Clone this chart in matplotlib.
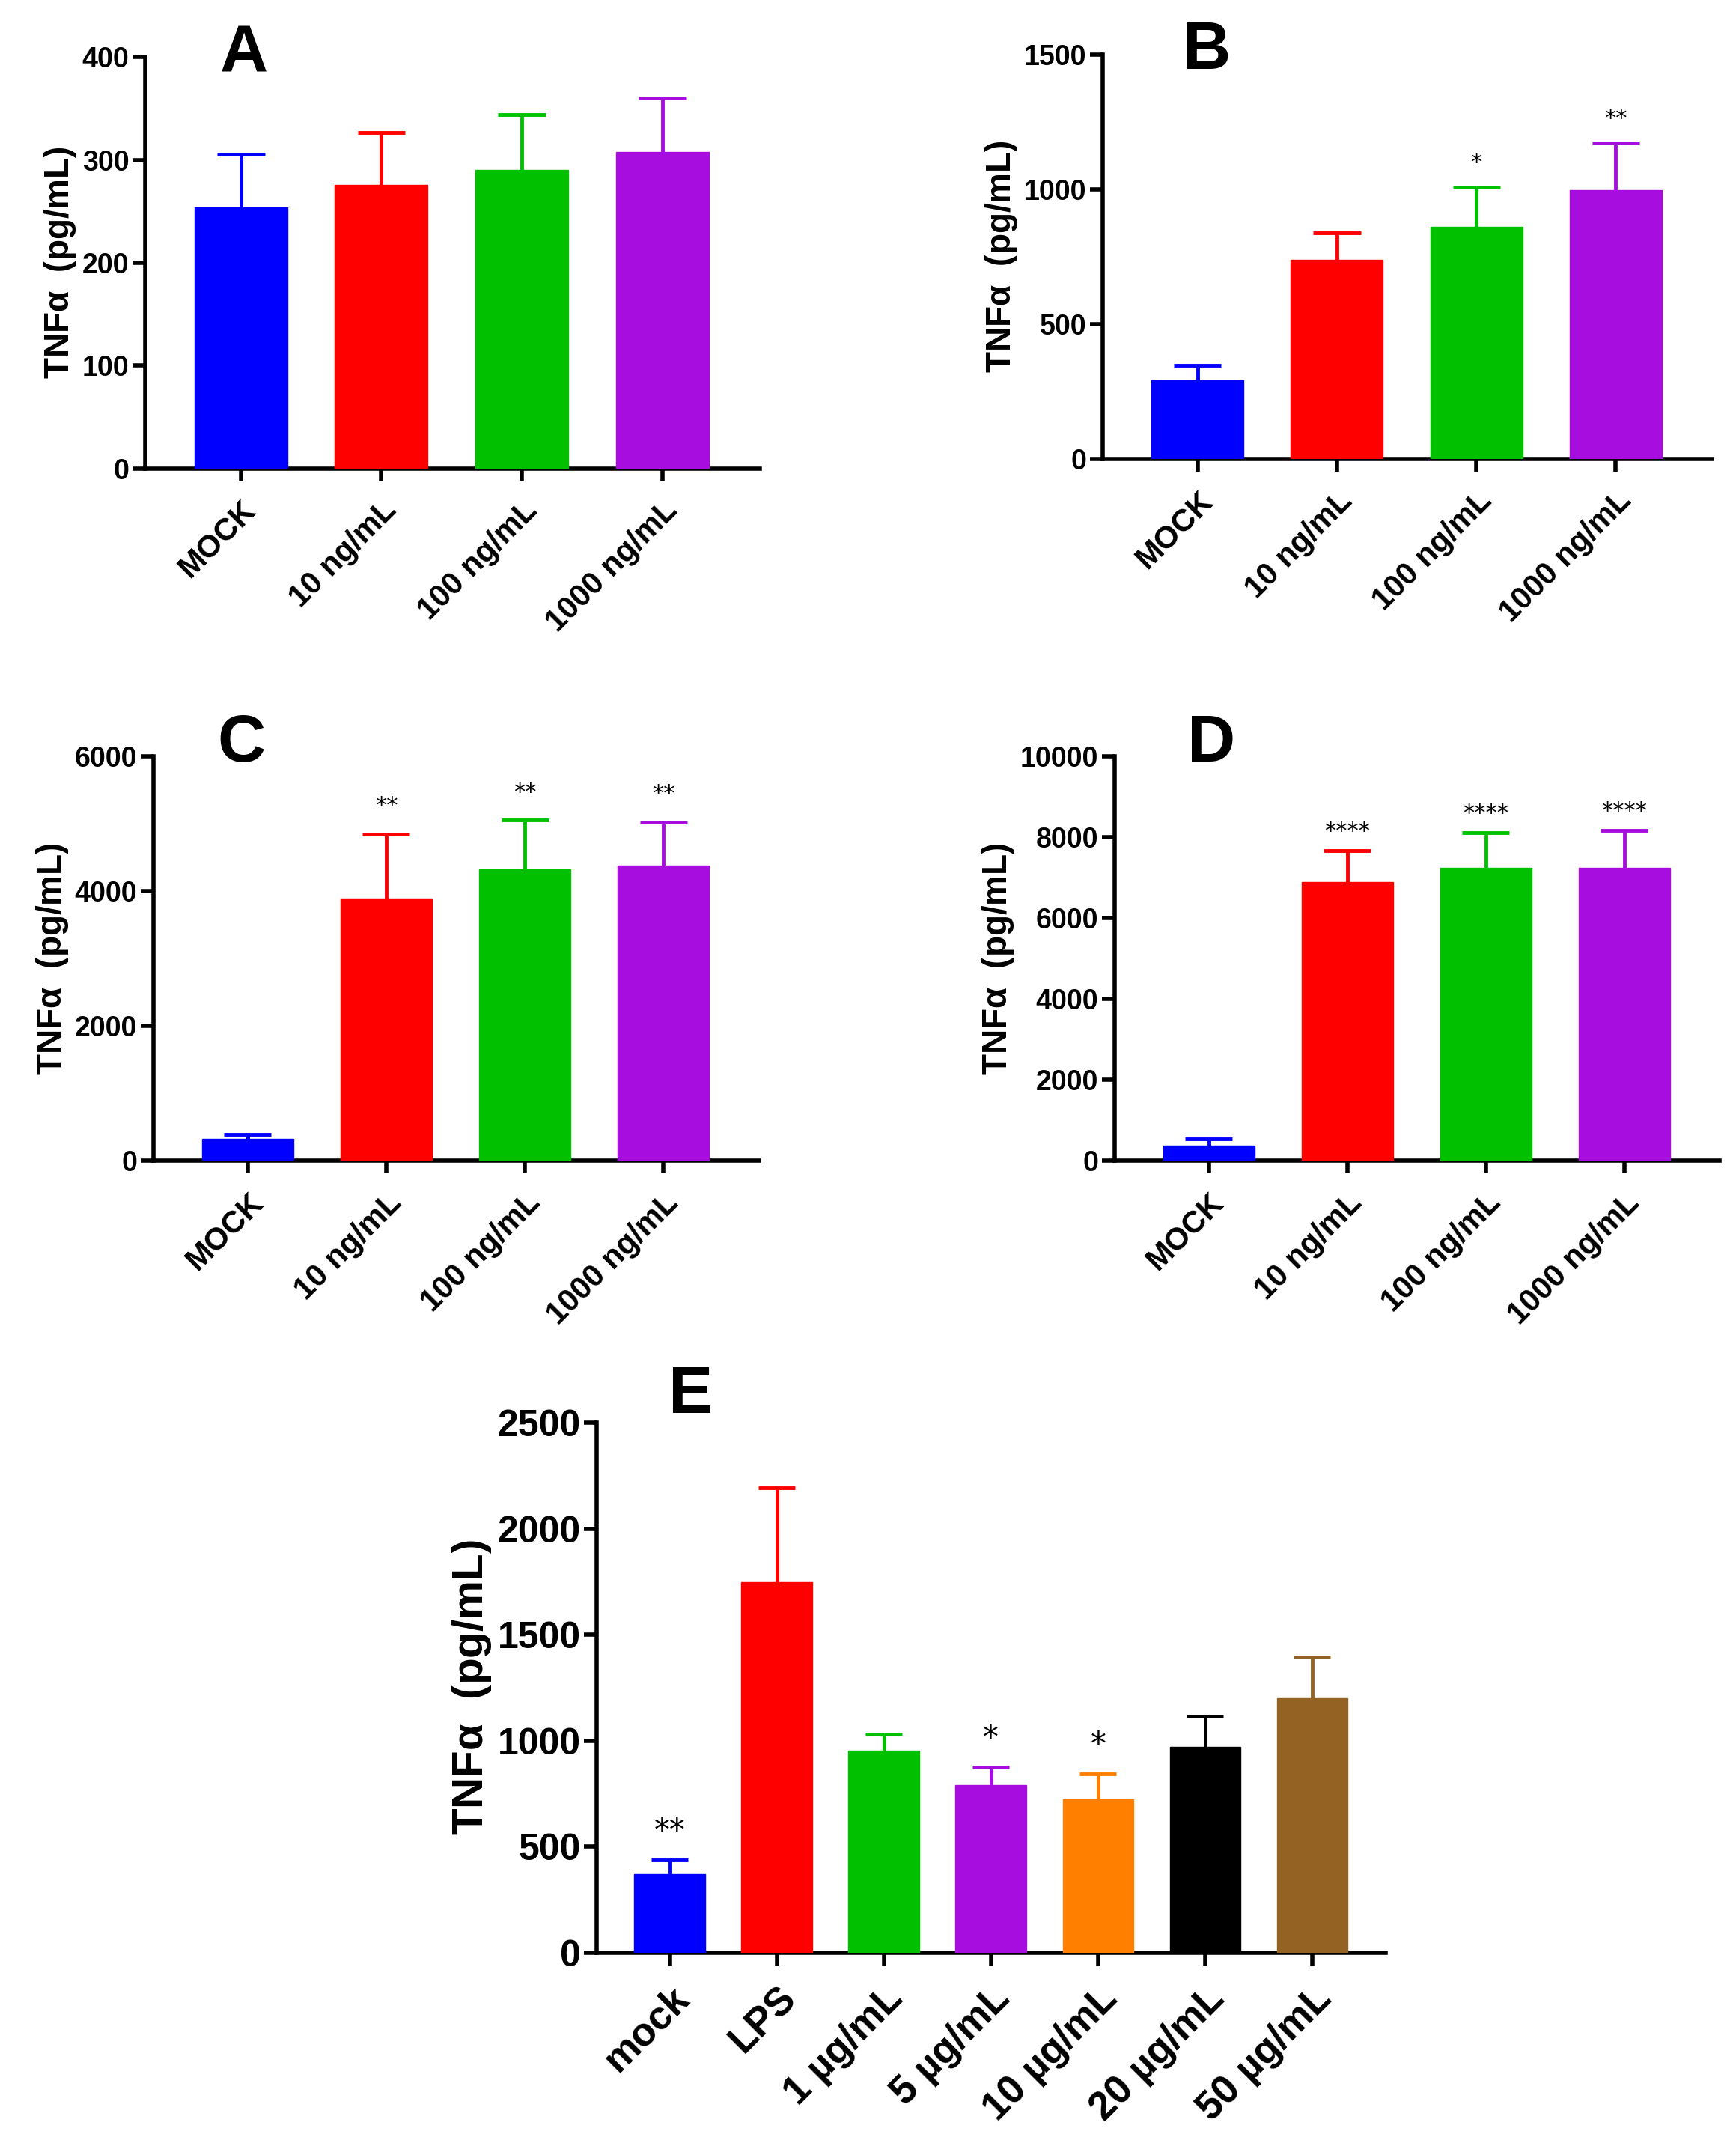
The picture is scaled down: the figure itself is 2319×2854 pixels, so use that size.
import matplotlib
matplotlib.use('Agg')
import matplotlib.pyplot as plt
import numpy as np

plt.rcParams['font.family'] = ['Liberation Sans', 'DejaVu Sans']
plt.rcParams['font.weight'] = 'bold'

conc_labels = ['MOCK', '10 ng/mL', '100 ng/mL', '1000 ng/mL']
conc_colors = ['#0000ff', '#ff0000', '#00c000', '#a80ddf']

a_mean = [254, 276, 290, 308]
a_err = [52, 51, 54, 52]
a_stars = ['', '', '', '']

b_mean = [291, 740, 860, 996]
b_err = [55, 99, 148, 177]
b_stars = ['', '', '*', '**']

c_mean = [320, 3890, 4320, 4380]
c_err = [72, 960, 735, 650]
c_stars = ['', '**', '**', '**']

d_mean = [371, 6900, 7240, 7240]
d_err = [160, 770, 880, 935]
d_stars = ['', '****', '****', '****']

e_labels = ['mock', 'LPS', '1 µg/mL', '5 µg/mL', '10 µg/mL', '20 µg/mL', '50 µg/mL']
e_colors = ['#0000ff', '#ff0000', '#00c000', '#a80ddf', '#ff8000', '#000000', '#946223']
e_mean = [369, 1748, 952, 789, 723, 971, 1202]
e_err = [68, 444, 80, 85, 119, 146, 194]
e_stars = ['**', '', '', '*', '*', '', '']

fig = plt.figure(figsize=(23.19, 28.54), dpi=100)


def panel(rect, labels, colors, means, errs, stars, yticks, letter, letter_pos,
          ytick_fs, xtick_fs, label_fs, star_fs, star_gap):
    ax = fig.add_axes(rect)
    x = np.arange(len(labels))
    means = np.array(means)
    tops = means + np.array(errs)
    # upper error bars only: stem + cap, same colour as the bar
    ax.vlines(x, means, tops, colors=colors, linewidth=3.5, zorder=2)
    ax.hlines(tops, x - 0.17, x + 0.17, colors=colors, linewidth=3.5, zorder=2)
    ax.bar(x, means, width=0.66, color=colors, edgecolor=colors, linewidth=1, zorder=3)
    for i in range(len(labels)):
        if stars[i]:
            ax.text(x[i], tops[i] + star_gap, stars[i], ha='center',
                    va='bottom', fontsize=star_fs, fontweight='normal',
                    family='DejaVu Sans')
    ax.set_xlim(-0.68, len(labels) - 1 + 0.69)
    ax.set_ylim(0, yticks[-1])
    ax.set_yticks(yticks)
    ax.set_xticks(x)
    ax.set_xticklabels(labels, rotation=45, ha='right', rotation_mode='anchor')
    for s in ['top', 'right']:
        ax.spines[s].set_visible(False)
    for s in ['left', 'bottom']:
        ax.spines[s].set_linewidth(4)
    ax.tick_params(width=4, length=12)
    ax.tick_params(axis='y', labelsize=ytick_fs)
    ax.tick_params(axis='x', pad=14, labelsize=xtick_fs)
    ax.set_ylabel('TNF$\\mathregular{\\alpha}$  (pg/mL)', fontsize=label_fs,
                  fontweight='bold')
    fig.text(letter_pos[0], letter_pos[1], letter, fontsize=64, fontweight='bold',
             ha='center', va='center')
    return ax


panel([0.0836, 0.7808, 0.354, 0.1924], conc_labels, conc_colors, a_mean, a_err,
      a_stars, [0, 100, 200, 300, 400], 'A', (0.1406, 0.9744), 27, 30, 33, 22, 0)
panel([0.6352, 0.7853, 0.351, 0.1891], conc_labels, conc_colors, b_mean, b_err,
      b_stars, [0, 500, 1000, 1500], 'B', (0.695, 0.9757), 27, 30, 33, 22, 50)
panel([0.0883, 0.4569, 0.349, 0.1891], conc_labels, conc_colors, c_mean, c_err,
      c_stars, [0, 2000, 4000, 6000], 'C', (0.139, 0.6518), 27, 30, 33, 22, 250)
panel([0.642, 0.4569, 0.3486, 0.1891], conc_labels, conc_colors, d_mean, d_err,
      d_stars, [0, 2000, 4000, 6000, 8000, 10000], 'D', (0.6977, 0.6518), 27, 30, 33, 22, 200)
panel([0.3438, 0.0863, 0.4546, 0.2479], e_labels, e_colors, e_mean, e_err,
      e_stars, [0, 500, 1000, 1500, 2000, 2500], 'E', (0.398, 0.347), 36, 38, 42, 30, 60)

plt.savefig('out.png', dpi=100)
